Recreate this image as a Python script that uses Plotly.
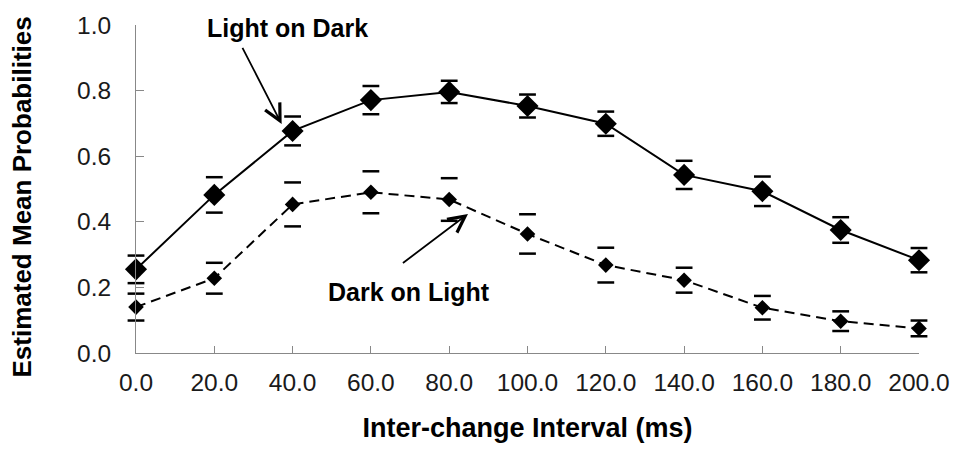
import plotly.graph_objects as go

# ---- data ----
intervals = [0, 20, 40, 60, 80, 100, 120, 140, 160, 180, 200]
x_tick_labels = ["0.0", "20.0", "40.0", "60.0", "80.0", "100.0", "120.0", "140.0", "160.0", "180.0", "200.0"]
y_tick_vals = [0.0, 0.2, 0.4, 0.6, 0.8, 1.0]
y_tick_labels = ["0.0", "0.2", "0.4", "0.6", "0.8", "1.0"]

light_on_dark = [0.255, 0.482, 0.677, 0.771, 0.796, 0.753, 0.699, 0.543, 0.493, 0.375, 0.283]
light_on_dark_err = [0.042, 0.054, 0.044, 0.043, 0.034, 0.035, 0.037, 0.043, 0.045, 0.039, 0.037]
dark_on_light = [0.140, 0.228, 0.453, 0.490, 0.468, 0.363, 0.268, 0.222, 0.138, 0.097, 0.075]
dark_on_light_err = [0.041, 0.047, 0.067, 0.064, 0.065, 0.060, 0.053, 0.038, 0.036, 0.030, 0.024]

FONT = "Liberation Sans, Arial, sans-serif"

fig = go.Figure()

def caps(vals, errs):
    up = [v + e for v, e in zip(vals, errs)]
    lo = [v - e for v, e in zip(vals, errs)]
    return up + lo

for vals, errs, dash, msize in [
    (light_on_dark, light_on_dark_err, "solid", 17),
    (dark_on_light, dark_on_light_err, "10px,6px", 12),
]:
    # error bar caps
    fig.add_trace(go.Scatter(
        x=intervals + intervals, y=caps(vals, errs), mode="markers",
        marker=dict(symbol="line-ew", size=12, line=dict(color="black", width=2.5)),
        cliponaxis=False, showlegend=False, hoverinfo="skip",
    ))
    fig.add_trace(go.Scatter(
        x=intervals, y=vals, mode="lines+markers",
        line=dict(color="black", width=2, dash=dash),
        marker=dict(symbol="diamond", size=msize, color="black"),
        cliponaxis=False, showlegend=False,
    ))

# labels with arrows
fig.add_annotation(x=38.7, y=0.992, text="<b>Light on Dark</b>", showarrow=False,
                   font=dict(family=FONT, size=25, color="black"))
fig.add_annotation(x=37.2, y=0.698, ax=27.0, ay=0.935, axref="x", ayref="y", text="",
                   showarrow=True, arrowhead=5, arrowsize=1.8, arrowwidth=1.8, arrowcolor="black")
fig.add_annotation(x=69.8, y=0.187, text="<b>Dark on Light</b>", showarrow=False,
                   font=dict(family=FONT, size=25, color="black"))
fig.add_annotation(x=84.8, y=0.424, ax=67.8, ay=0.271, axref="x", ayref="y", text="",
                   showarrow=True, arrowhead=5, arrowsize=1.8, arrowwidth=1.8, arrowcolor="black")

# y-axis title (placed as a rotated annotation so it can sit slightly below centre)
fig.add_annotation(xref="paper", yref="paper", x=-0.1452, y=0.475, xanchor="center", yanchor="middle",
                   text="<b>Estimated Mean Probabilities</b>", textangle=-90, showarrow=False,
                   font=dict(family=FONT, size=26, color="black"))

fig.update_layout(
    width=962, height=451,
    margin=dict(l=136, r=41, t=20, b=98),
    paper_bgcolor="white", plot_bgcolor="white",
    font=dict(family=FONT, color="#1a1a1a"),
    showlegend=False,
)
fig.update_xaxes(
    range=[0, 200], tickvals=intervals, ticktext=x_tick_labels,
    showgrid=False, zeroline=False, showline=True, linecolor="#888888", linewidth=1,
    ticks="inside", ticklen=7, tickcolor="#888888", tickfont=dict(size=24.5, family=FONT, color="#1a1a1a"),
    ticklabelstandoff=8,
    title=dict(text="<b>Inter-change Interval (ms)</b>", font=dict(size=27, family=FONT, color="black"), standoff=22),
)
fig.update_yaxes(
    range=[0, 1], tickvals=y_tick_vals, ticktext=y_tick_labels,
    showgrid=False, zeroline=False, showline=True, linecolor="#888888", linewidth=1,
    ticks="inside", ticklen=8, tickcolor="#888888", tickfont=dict(size=24.5, family=FONT, color="#1a1a1a"),
    ticklabelstandoff=19,
)

fig.write_html("out.html")
